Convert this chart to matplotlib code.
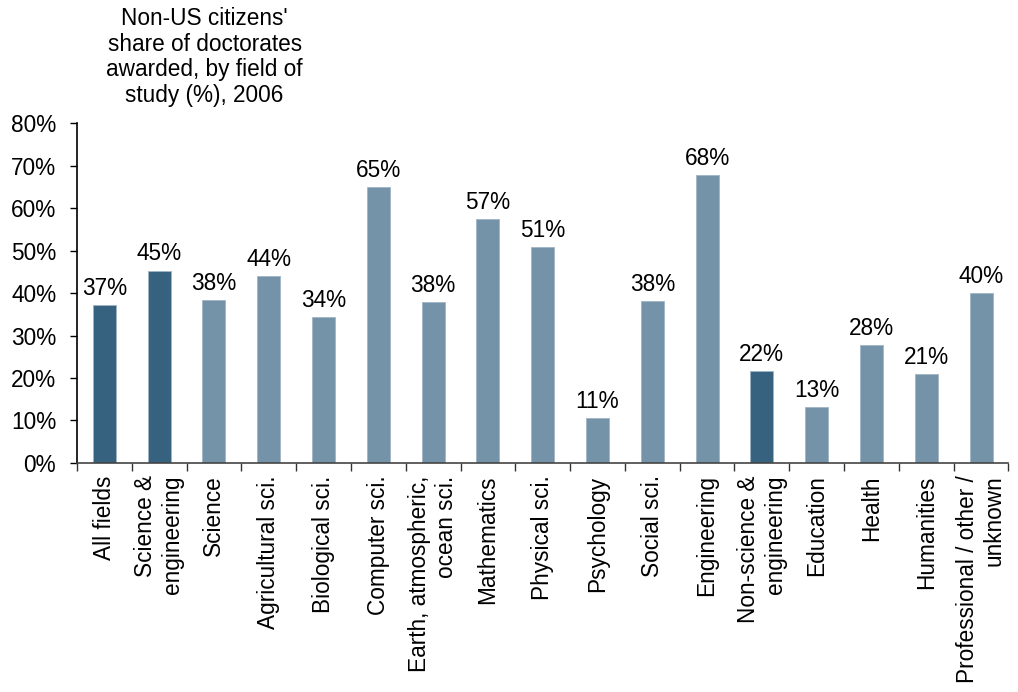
import matplotlib.pyplot as plt
import numpy as np

plt.rcParams['font.family'] = ['Liberation Sans', 'DejaVu Sans']

fields = ['All fields', 'Science &\nengineering', 'Science', 'Agricultural sci.',
          'Biological sci.', 'Computer sci.', 'Earth, atmospheric,\nocean sci.',
          'Mathematics', 'Physical sci.', 'Psychology', 'Social sci.', 'Engineering',
          'Non-science &\nengineering', 'Education', 'Health', 'Humanities',
          'Professional / other /\nunknown']
share = [37.2, 45.3, 38.4, 44.0, 34.4, 64.9, 37.9, 57.4, 50.8, 10.6, 38.1, 67.8,
         21.6, 13.2, 27.8, 20.9, 40.0]
totals = ['All fields', 'Science &\nengineering', 'Non-science &\nengineering']

dark = '#36627f'
light = '#7593a8'
colors = [dark if f in totals else light for f in fields]

fs = 16.3

fig = plt.figure(figsize=(10.18, 6.92), dpi=100)
ax = fig.add_axes([0.0756, 0.331, 0.915, 0.491])

x = np.arange(len(fields))
ax.bar(x, share, width=0.42, color=colors, edgecolor='#9fb4c4', linewidth=0.6)

for xi, v in zip(x, share):
    ax.text(xi, v + 1.2, f'{v:.0f}%', ha='center', va='bottom', fontsize=fs)

ax.set_xlim(-0.5, len(fields) - 0.5)
ax.set_ylim(0, 80)
ax.set_yticks(np.arange(0, 81, 10))
ax.set_yticklabels([f'{t}%' for t in range(0, 81, 10)], fontsize=fs)
ax.tick_params(axis='y', direction='out', length=5, width=1, pad=10)

ax.set_xticks(x)
ax.set_xticklabels(fields, rotation=90, fontsize=fs, va='top', ha='center',
                   multialignment='right', linespacing=1.2)
ax.tick_params(axis='x', which='major', length=0, pad=9)
ax.set_xticks(np.arange(-0.5, len(fields)), minor=True)
ax.tick_params(axis='x', which='minor', direction='out', length=6, width=1,
               color='#333333')

for s in ['top', 'right']:
    ax.spines[s].set_visible(False)
ax.spines['left'].set_linewidth(1.2)
ax.spines['bottom'].set_color('#444444')
ax.spines['bottom'].set_linewidth(1.2)

fig.text(0.201, 0.99, "Non-US citizens'\nshare of doctorates\nawarded, by field of\nstudy (%), 2006",
         ha='center', va='top', fontsize=fs, linespacing=1.15)

fig.savefig('out.png', dpi=100)
